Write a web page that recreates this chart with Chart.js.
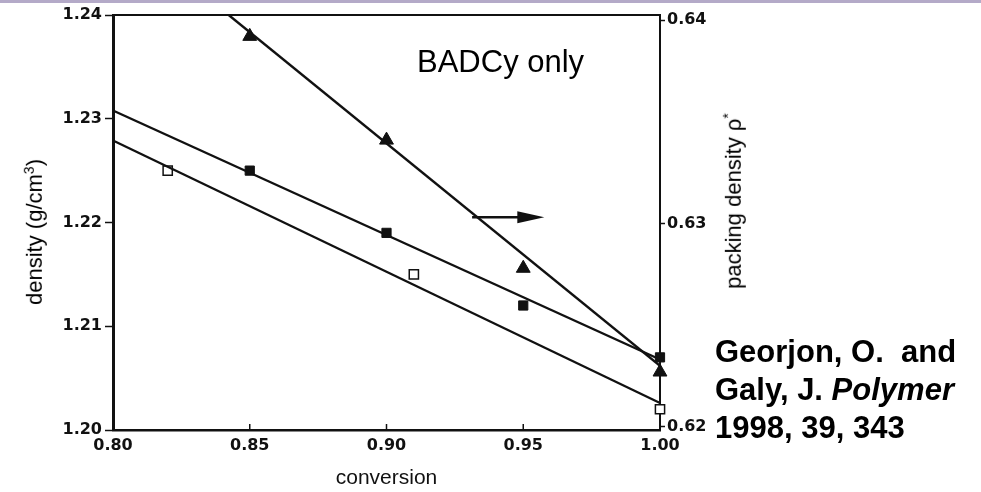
<!DOCTYPE html>
<html>
<head>
<meta charset="utf-8">
<script src="https://cdn.jsdelivr.net/npm/chart.js@4/dist/chart.umd.min.js"></script>
<style>
  body { margin: 0; background: #fff; }
  #wrap { position: relative; width: 981px; height: 492px; overflow: hidden; }
  #topbar { position: absolute; left: 0; top: 0; width: 981px; height: 3px; background: #b4aac8; }
  canvas { position: absolute; left: 0; top: 0; }
  .note { position: absolute; font-family: "Liberation Sans", Arial, sans-serif; color: #000; white-space: nowrap; }
  #label { left: 417px; top: 46px; font-size: 31px; line-height: 31px; }
  #cite { left: 715px; top: 333px; font-size: 31px; line-height: 38px; font-weight: bold; }
  .vtitle { font-size: 22px; line-height: 24px; transform: translate(-50%, -50%) rotate(-90deg); }
  .vtitle sup { font-size: 14px; }
  #ltitle { left: 32px; top: 232px; }
  #rtitle { left: 731px; top: 201px; }
</style>
</head>
<body>
<div id="wrap">
  <canvas id="chart" width="981" height="492"></canvas>
  <div id="topbar"></div>
  <div class="note" id="label">BADCy only</div>
  <div class="note vtitle" id="ltitle">density (g/cm<sup>3</sup>)</div>
  <div class="note vtitle" id="rtitle">packing density ρ<sup>*</sup></div>
  <div class="note" id="cite">Georjon, O.&nbsp; and<br>Galy, J. <i>Polymer</i><br>1998, 39, 343</div>
</div>
<script>
// Dados
const CONVERSION_OPEN = [0.82, 0.91, 1.00];
const DENSITY_OPEN = [1.225, 1.215, 1.202];

const CONVERSION_FILLED = [0.85, 0.90, 0.95, 1.00];
const DENSITY_FILLED = [1.225, 1.219, 1.212, 1.207];

const CONVERSION_TRI = [0.85, 0.90, 0.95, 1.00];
const PACKING_TRI = [0.6392, 0.6341, 0.6278, 0.6227];

// Retas de ajuste (extremos)
const FIT_X = [0.80, 1.00];
const FIT_OPEN = [1.2279, 1.2026];
const FIT_FILLED = [1.2308, 1.2068];
const FIT_TRI_X = [0.8423, 1.00];
const FIT_TRI = [0.64025, 0.6230];

// Seta indicando o eixo da direita
const ARROW_X = [0.9313, 0.9577];
const ARROW_Y = [1.2205, 1.2205];

// Ticks
const X_TICKS = [0.80, 0.85, 0.90, 0.95, 1.00];
const LEFT_TICKS = [1.20, 1.21, 1.22, 1.23, 1.24];
const RIGHT_TICKS = [0.62, 0.63, 0.64];

const pts = (xs, ys) => xs.map((x, i) => ({ x: x, y: ys[i] }));

const tickFont = { family: 'DejaVu Sans', size: 16, weight: 'bold' };
const titleFont = { family: 'Liberation Sans', size: 21 };

// Moldura superior + ticks do eixo x para dentro + seta
const extras = {
    id: 'extras',
    afterDatasetsDraw(chart) {
        const { ctx, chartArea, scales } = chart;
        ctx.save();
        ctx.strokeStyle = '#111';
        ctx.lineWidth = 2;
        ctx.beginPath();
        ctx.moveTo(chartArea.left, chartArea.top);
        ctx.lineTo(chartArea.right, chartArea.top);
        ctx.stroke();

        ctx.lineWidth = 1.5;
        X_TICKS.forEach(v => {
            const px = scales.x.getPixelForValue(v);
            ctx.beginPath();
            ctx.moveTo(px, chartArea.bottom);
            ctx.lineTo(px, chartArea.bottom - 6);
            ctx.stroke();
        });

        const x0 = scales.x.getPixelForValue(ARROW_X[0]);
        const x1 = scales.x.getPixelForValue(ARROW_X[1]);
        const y0 = scales.y.getPixelForValue(ARROW_Y[0]);
        const y1 = scales.y.getPixelForValue(ARROW_Y[1]);
        ctx.lineWidth = 2.5;
        ctx.beginPath();
        ctx.moveTo(x0, y0);
        ctx.lineTo(x1 - 20, y1);
        ctx.stroke();
        ctx.fillStyle = '#111';
        ctx.beginPath();
        ctx.moveTo(x1, y1);
        ctx.lineTo(x1 - 27, y1 - 6);
        ctx.lineTo(x1 - 27, y1 + 6);
        ctx.closePath();
        ctx.fill();
        ctx.restore();
    }
};

new Chart(document.getElementById('chart'), {
    type: 'scatter',
    data: {
        datasets: [
            {
                data: pts(FIT_X, FIT_OPEN), type: 'line', yAxisID: 'y',
                borderColor: '#111', borderWidth: 2.2, pointRadius: 0
            },
            {
                data: pts(FIT_X, FIT_FILLED), type: 'line', yAxisID: 'y',
                borderColor: '#111', borderWidth: 2.2, pointRadius: 0
            },
            {
                data: pts(FIT_TRI_X, FIT_TRI), type: 'line', yAxisID: 'y2',
                borderColor: '#111', borderWidth: 2.4, pointRadius: 0
            },
            {
                data: pts(CONVERSION_OPEN, DENSITY_OPEN), yAxisID: 'y',
                pointStyle: 'rect', pointRadius: 6.5, backgroundColor: '#fff',
                borderColor: '#111', borderWidth: 1.5, clip: false
            },
            {
                data: pts(CONVERSION_FILLED, DENSITY_FILLED), yAxisID: 'y',
                pointStyle: 'rect', pointRadius: 6.5, backgroundColor: '#111',
                borderColor: '#111', borderWidth: 1, clip: false
            },
            {
                data: pts(CONVERSION_TRI, PACKING_TRI), yAxisID: 'y2',
                pointStyle: 'triangle', pointRadius: 8, backgroundColor: '#111',
                borderColor: '#111', borderWidth: 1, clip: false
            }
        ]
    },
    options: {
        responsive: false,
        animation: false,
        devicePixelRatio: 1,
        layout: { padding: { top: 15, left: 0, right: 0, bottom: 0 } },
        plugins: { legend: { display: false }, tooltip: { enabled: false } },
        scales: {
            x: {
                type: 'linear', min: 0.80, max: 1.00,
                afterBuildTicks: s => { s.ticks = X_TICKS.map(v => ({ value: v })); },
                afterFit: s => { s.height = 62; },
                ticks: { color: '#111', font: tickFont, padding: 6, callback: v => v.toFixed(2) },
                grid: { drawOnChartArea: false, drawTicks: false },
                border: { color: '#111', width: 2.5 },
                title: { display: true, text: 'conversion', color: '#111', font: titleFont, padding: { top: 0, bottom: 1 } }
            },
            y: {
                type: 'linear', position: 'left', min: 1.20, max: 1.24,
                afterBuildTicks: s => { s.ticks = LEFT_TICKS.map(v => ({ value: v })); },
                afterFit: s => { s.width = 113; },
                ticks: { color: '#111', font: tickFont, padding: 3, callback: v => v.toFixed(2) },
                grid: { drawOnChartArea: false, tickLength: 8, color: '#111', tickWidth: 1.5 },
                border: { color: '#111', width: 3 }
            },
            y2: {
                type: 'linear', position: 'right', min: 0.61985, max: 0.64025,
                afterBuildTicks: s => { s.ticks = RIGHT_TICKS.map(v => ({ value: v })); },
                afterFit: s => { s.width = 321; },
                ticks: { color: '#111', font: tickFont, padding: 2, callback: v => v.toFixed(2) },
                grid: { drawOnChartArea: false, tickLength: 5, color: '#111', tickWidth: 1.5 },
                border: { color: '#111', width: 2 }
            }
        }
    },
    plugins: [extras]
});
</script>
</body>
</html>
